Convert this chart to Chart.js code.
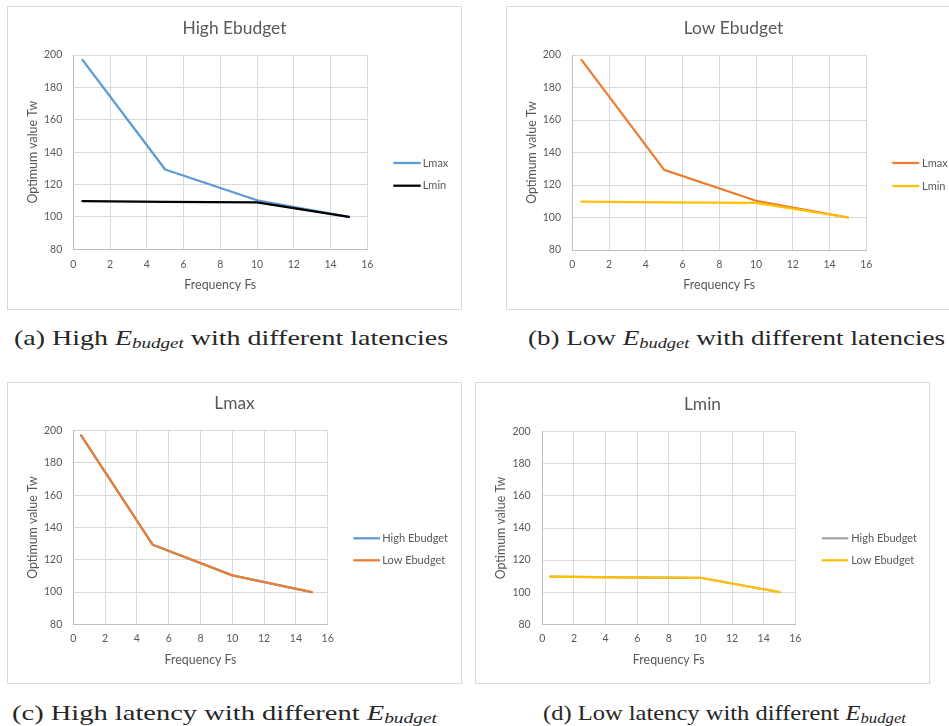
<!DOCTYPE html>
<html>
<head>
<meta charset="utf-8">
<title>Optimum value Tw versus frequency Fs</title>
<script src="https://cdn.jsdelivr.net/npm/chart.js@4.4.1/dist/chart.umd.min.js"></script>
<style>
  html, body { margin: 0; padding: 0; background: #fff; width: 949px; height: 726px; overflow: hidden; position: relative; }
  .panel { position: absolute; box-sizing: border-box; border: 1px solid #D9D9D9; background: #fff; overflow: hidden; }
  .panel canvas { position: absolute; left: 0; top: 0; }
  .cap { position: absolute; font-family: "Liberation Serif"; font-size: 22px; line-height: 22px; white-space: nowrap; color: #262626; transform-origin: 0 50%; }
  .cap i { font-style: italic; }
  .cap sub { font-size: 15px; line-height: 0; vertical-align: -3px; }
</style>
</head>
<body>

<div class="panel" id="boxA" style="left:7px;top:6px;width:455px;height:304px"><canvas id="chartA" width="453" height="302"></canvas></div>
<div class="panel" id="boxB" style="left:506px;top:6px;width:455px;height:304px"><canvas id="chartB" width="453" height="302"></canvas></div>
<div class="panel" id="boxC" style="left:7px;top:382px;width:455px;height:302px"><canvas id="chartC" width="453" height="300"></canvas></div>
<div class="panel" id="boxD" style="left:475px;top:382px;width:455px;height:302px"><canvas id="chartD" width="453" height="300"></canvas></div>

<div class="cap" data-w="434" style="left:14px;top:327px">(a) High <i>E</i><sub><i>budget</i></sub> with different latencies</div>
<div class="cap" data-w="417" style="left:528px;top:327px">(b) Low <i>E</i><sub><i>budget</i></sub> with different latencies</div>
<div class="cap" data-w="425" style="left:12px;top:702px">(c) High latency with different <i>E</i><sub><i>budget</i></sub></div>
<div class="cap" data-w="363" style="left:543px;top:702px">(d) Low latency with different <i>E</i><sub><i>budget</i></sub></div>

<script>
// Frequency Fs at which the optimum Tw was computed
const freqFs = [0.5, 5, 10, 15];

// Optimum value Tw, per latency and energy budget
const lmaxHighEbudget = [197, 129.3, 110.3, 100];
const lminHighEbudget = [109.7, 109.3, 109.0, 100];
const lmaxLowEbudget  = [197, 129.3, 110.3, 100];
const lminLowEbudget  = [109.7, 109.3, 109.0, 100];

// Axis tick values
const xTickValues = [0, 2, 4, 6, 8, 10, 12, 14, 16];
const yTickValues = [80, 100, 120, 140, 160, 180, 200];

const FONT = 'Lato, "Open Sans", sans-serif';
const TEXT = '#595959';
const TITLE_SIZE = 17.4, AXIS_TITLE_SIZE = 12.4, TICK_SIZE = 10.5, LEGEND_SIZE = 11;

const toPoints = (ys) => ys.map((y, i) => ({ x: freqFs[i], y }));

// Legend drawn to the right of the plot area, one short line per series
const sideLegend = {
  id: 'sideLegend',
  afterDraw(chart, args, opts) {
    const ctx = chart.ctx;
    ctx.save();
    chart.data.datasets.forEach((ds, i) => {
      const y = opts.rows[i];
      ctx.strokeStyle = ds.borderColor;
      ctx.lineWidth = ds.borderWidth;
      ctx.lineCap = 'butt';
      ctx.beginPath();
      ctx.moveTo(opts.lineFrom, y);
      ctx.lineTo(opts.lineTo, y);
      ctx.stroke();
      ctx.fillStyle = TEXT;
      ctx.font = LEGEND_SIZE + 'px ' + FONT;
      ctx.textAlign = 'left';
      ctx.textBaseline = 'middle';
      ctx.fillText(ds.label, opts.textX, y);
    });
    ctx.restore();
  }
};

function makeChart(canvasId, spec) {
  const canvas = document.getElementById(canvasId);
  const cw = canvas.width, ch = canvas.height;
  const p = spec.plot;
  const titleLH = TITLE_SIZE * 1.2, axisLH = AXIS_TITLE_SIZE * 1.2, tickLH = TICK_SIZE * 1.2;

  const datasets = spec.series.map((s) => ({
    label: s.label,
    data: toPoints(s.values),
    borderColor: s.color,
    backgroundColor: s.color,
    borderWidth: 2.25,
    pointRadius: 0,
    pointHoverRadius: 0,
    tension: 0,
    fill: false,
    borderJoinStyle: 'round',
    borderCapStyle: 'round',
    order: s.order,
    xAxisID: 'x',
    yAxisID: 'y'
  }));

  return new Chart(canvas, {
    type: 'line',
    data: { datasets },
    plugins: [sideLegend],
    options: {
      responsive: false,
      animation: false,
      events: [],
      layout: { padding: 0 },
      plugins: {
        legend: { display: false },
        tooltip: { enabled: false },
        title: {
          display: true,
          text: spec.title,
          color: TEXT,
          font: { family: FONT, size: TITLE_SIZE, weight: 'normal' },
          padding: { top: spec.titleY - titleLH / 2, bottom: p.t - spec.titleY - titleLH / 2 }
        },
        sideLegend: spec.legend
      },
      scales: {
        x: {
          type: 'linear',
          position: 'bottom',
          min: xTickValues[0],
          max: xTickValues[xTickValues.length - 1],
          afterFit: (s) => { s.height = ch - p.b; },
          ticks: {
            stepSize: xTickValues[1] - xTickValues[0],
            color: TEXT,
            font: { family: FONT, size: TICK_SIZE },
            padding: spec.xTickY - p.b - tickLH / 2,
            maxRotation: 0
          },
          grid: { color: '#D9D9D9', lineWidth: 1, drawTicks: false },
          border: { color: '#BFBFBF', width: 1 },
          title: {
            display: true,
            text: 'Frequency Fs',
            color: TEXT,
            font: { family: FONT, size: AXIS_TITLE_SIZE },
            padding: { top: 0, bottom: (ch - spec.xTitleY) - axisLH / 2 }
          }
        },
        y: {
          type: 'linear',
          position: 'left',
          min: yTickValues[0],
          max: yTickValues[yTickValues.length - 1],
          afterFit: (s) => { s.width = p.l; },
          ticks: {
            stepSize: yTickValues[1] - yTickValues[0],
            color: TEXT,
            font: { family: FONT, size: TICK_SIZE },
            padding: p.l - spec.yTickRight
          },
          grid: { color: '#D9D9D9', lineWidth: 1, drawTicks: false },
          border: { color: '#BFBFBF', width: 1 },
          title: {
            display: true,
            text: 'Optimum value Tw',
            color: TEXT,
            font: { family: FONT, size: AXIS_TITLE_SIZE },
            padding: { top: spec.yTitleX - axisLH / 2, bottom: 0 }
          }
        },
        // empty band on the right that holds the legend
        legendBand: {
          type: 'linear',
          position: 'right',
          afterFit: (s) => { s.width = cw - p.r; },
          ticks: { display: false },
          grid: { display: false, drawTicks: false },
          border: { display: false }
        }
      }
    }
  });
}

makeChart('chartA', {
  title: 'High Ebudget',
  series: [
    { label: 'Lmax', values: lmaxHighEbudget, color: '#5B9BD5', order: 1 },
    { label: 'Lmin', values: lminHighEbudget, color: '#000000', order: 0 }
  ],
  plot: { l: 65.3, r: 359.3, t: 48, b: 242.3 },
  titleY: 21, yTitleX: 25.3, yTickRight: 54.3, xTickY: 258, xTitleY: 278,
  legend: { lineFrom: 385.3, lineTo: 412.7, textX: 414.7, rows: [156, 178.7] }
});

makeChart('chartB', {
  title: 'Low Ebudget',
  series: [
    { label: 'Lmax', values: lmaxLowEbudget, color: '#ED7D31', order: 1 },
    { label: 'Lmin', values: lminLowEbudget, color: '#FFC000', order: 0 }
  ],
  plot: { l: 65.3, r: 359.3, t: 48, b: 243 },
  titleY: 21, yTitleX: 25.3, yTickRight: 54, xTickY: 258, xTitleY: 278,
  legend: { lineFrom: 385.3, lineTo: 412.3, textX: 415, rows: [156, 179] }
});

makeChart('chartC', {
  title: 'Lmax',
  series: [
    { label: 'High Ebudget', values: lmaxHighEbudget, color: '#5B9BD5', order: 1 },
    { label: 'Low Ebudget', values: lmaxLowEbudget, color: '#ED7D31', order: 0 }
  ],
  plot: { l: 65.3, r: 319.7, t: 47.7, b: 241.3 },
  titleY: 20.3, yTitleX: 25.3, yTickRight: 54.3, xTickY: 256, xTitleY: 277,
  legend: { lineFrom: 345.3, lineTo: 372, textX: 374.3, rows: [155.3, 177.3] }
});

makeChart('chartD', {
  title: 'Lmin',
  series: [
    { label: 'High Ebudget', values: lminHighEbudget, color: '#A5A5A5', order: 1 },
    { label: 'Low Ebudget', values: lminLowEbudget, color: '#FFC000', order: 0 }
  ],
  plot: { l: 66.3, r: 319.3, t: 48.7, b: 241.3 },
  titleY: 21.3, yTitleX: 25, yTickRight: 54.7, xTickY: 256, xTitleY: 277,
  legend: { lineFrom: 345.7, lineTo: 372.3, textX: 375.3, rows: [155.3, 177.3] }
});

// Stretch each caption to its column width
document.querySelectorAll('.cap').forEach((el) => {
  const target = Number(el.dataset.w);
  const natural = el.getBoundingClientRect().width;
  el.style.transform = 'scaleX(' + (target / natural).toFixed(4) + ')';
});
</script>
</body>
</html>
